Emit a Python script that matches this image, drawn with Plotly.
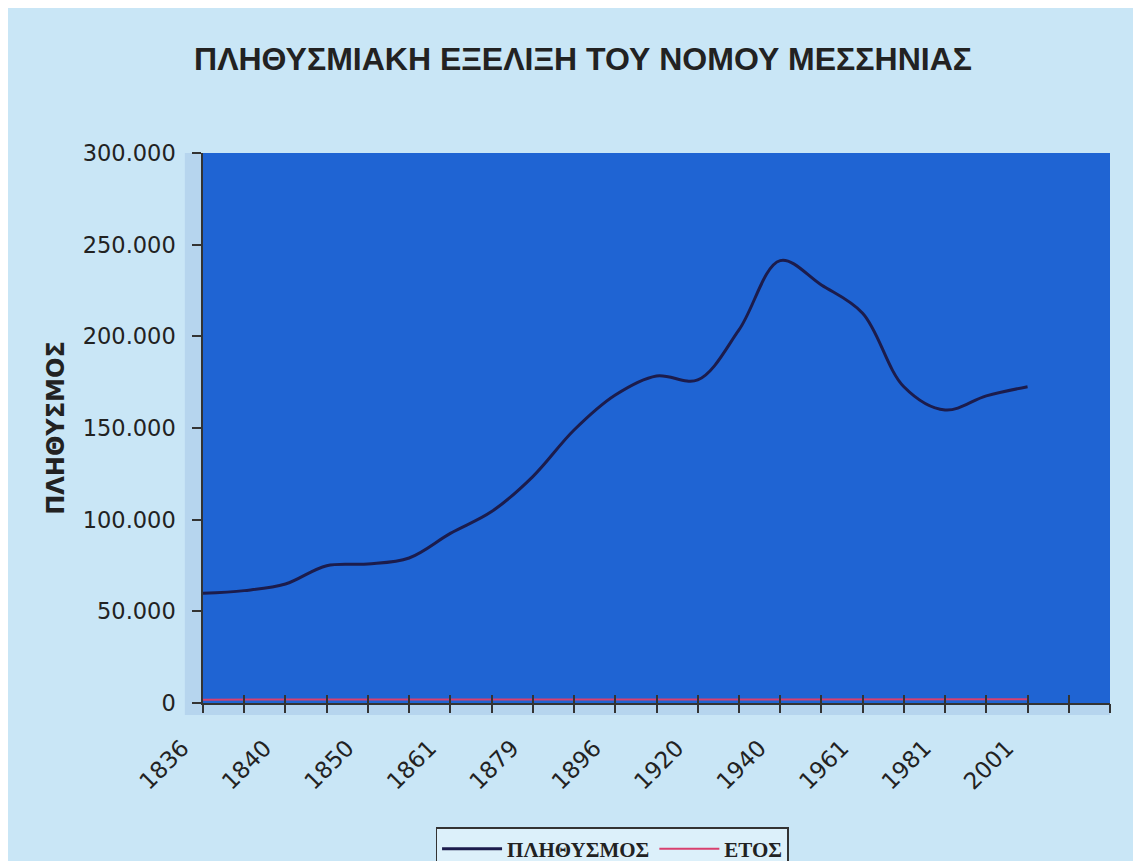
import plotly.graph_objects as go

# ---- data ----
years = ["1836", "1838", "1840", "1845", "1850", "1856", "1861", "1870", "1879", "1889",
         "1896", "1907", "1920", "1928", "1940", "1951", "1961", "1971", "1981", "1991", "2001"]
population = [59800, 61300, 64900, 74900, 75800, 79100, 92500, 104400, 123500, 148900,
              168000, 178400, 176200, 203500, 241300, 228000, 212600, 172500, 159800, 167500, 172500]
year_values = [1836, 1838, 1840, 1845, 1850, 1856, 1861, 1870, 1879, 1889,
               1896, 1907, 1920, 1928, 1940, 1951, 1961, 1971, 1981, 1991, 2001]
n_slots = 23  # category slots on the axis (two empty at the end)

idx = list(range(len(years)))
tick_pos = list(range(n_slots))
PAD = "\u00a0" * 4
tick_txt = [(years[i] + PAD if (i < len(years) and i % 2 == 0) else "") for i in tick_pos]

PAPER = "#c9e6f6"
PLOT = "#1f64d3"
TXT = "#222222"

fig = go.Figure()
fig.add_trace(go.Scatter(
    x=idx, y=population, name="ΠΛΗΘΥΣΜΟΣ", mode="lines",
    line=dict(color="#1c1c4c", width=3, shape="spline", smoothing=1.0),
))
fig.add_trace(go.Scatter(
    x=idx, y=year_values, name="ΕΤΟΣ", mode="lines", xaxis="x2",
    line=dict(color="#d8406e", width=2),
))

fig.update_layout(
    width=1133, height=853,
    paper_bgcolor=PAPER, plot_bgcolor=PLOT,
    separators=",.",
    margin=dict(l=195, r=31, t=145, b=158, autoexpand=False),
    title=dict(text="<b>ΠΛΗΘΥΣΜΙΑΚΗ ΕΞΕΛΙΞΗ ΤΟΥ ΝΟΜΟΥ ΜΕΣΣΗΝΙΑΣ</b>",
               x=0.5075, xanchor="center", y=0.941, yanchor="middle",
               font=dict(family="Liberation Sans", size=32, color=TXT)),
    xaxis=dict(range=[0, n_slots - 1], tickvals=tick_pos, ticktext=tick_txt,
               tickangle=-45, ticks="inside", ticklen=8, tickwidth=1.5, tickcolor="#333",
               showgrid=False, zeroline=False, showline=True, linecolor="#333", linewidth=1.5,
               automargin=False,
               tickfont=dict(family="DejaVu Sans", size=23, color=TXT)),
    xaxis2=dict(range=[0, n_slots - 1], tickvals=tick_pos, overlaying="x", side="bottom",
                ticks="outside", ticklen=9, tickwidth=1.5, tickcolor="#333",
                showticklabels=False, showgrid=False, zeroline=False, showline=False),
    yaxis=dict(range=[0, 300000], tickvals=[0, 50000, 100000, 150000, 200000, 250000, 300000],
               tickformat=",d", ticks="outside", ticklen=9, tickwidth=1.5, tickcolor="#333",
               ticklabelstandoff=12, automargin=False,
               showgrid=False, zeroline=False, showline=True, linecolor="#333", linewidth=1.5,
               tickfont=dict(family="DejaVu Sans", size=22.5, color=TXT),
               title=dict(text="<b>ΠΛΗΘΥΣΜΟΣ</b>", standoff=11,
                          font=dict(family="DejaVu Sans", size=24, color=TXT))),
    legend=dict(orientation="h", x=0.451, xanchor="center", y=-0.2255, yanchor="top",
                bgcolor="#dcf0fa", bordercolor="#333", borderwidth=1.5,
                itemwidth=60,
                font=dict(family="Liberation Serif", size=21, color="#222", weight="bold")),
    showlegend=True,
)

# textured border strips of the chart area (left wall / floor)
fig.add_shape(type="rect", xref="paper", yref="paper", x0=-0.02, x1=0, y0=-0.022, y1=1.0,
              fillcolor="#b6d5ee", line=dict(width=0), layer="below")
fig.add_shape(type="rect", xref="paper", yref="paper", x0=0, x1=1, y0=-0.022, y1=0,
              fillcolor="#b6d5ee", line=dict(width=0), layer="below")

fig.write_html("out.html")
